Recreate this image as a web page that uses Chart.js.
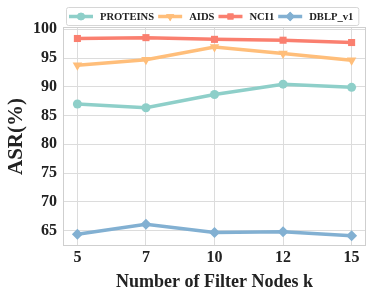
<!DOCTYPE html>
<html>
<head>
<meta charset="utf-8">
<script src="https://cdn.jsdelivr.net/npm/chart.js@4"></script>
<style>
  html, body { margin: 0; padding: 0; background: #fff; }
  #wrap { width: 374px; height: 297px; }
</style>
</head>
<body>
<div id="wrap"><canvas id="chart" width="374" height="297"></canvas></div>
<script>
// chart data
const kLabels = ['5', '7', '10', '12', '15'];
const proteins = [87.0, 86.35, 88.65, 90.45, 89.9];
const aids = [93.75, 94.7, 96.9, 95.8, 94.6];
const nci1 = [98.4, 98.55, 98.25, 98.1, 97.7];
const dblp = [64.35, 66.1, 64.65, 64.8, 64.1];
const yTicks = [65, 70, 75, 80, 85, 90, 95, 100];

const FONT = "'Liberation Serif', 'Times New Roman', serif";

function series(label, values, color, style, rot, r) {
    return {
        label: label,
        data: values.map((v, i) => ({ x: i, y: v })),
        borderColor: color,
        backgroundColor: color,
        borderWidth: 3.5,
        pointStyle: style,
        rotation: rot,
        pointRadius: r,
        pointHoverRadius: r,
        pointBorderWidth: 0,
        tension: 0
    };
}

// legend box with line + marker, plus plot frame
const legendAndFrame = {
    id: 'legendAndFrame',
    afterDraw(chart) {
        const ctx = chart.ctx;
        const a = chart.chartArea;
        ctx.save();
        ctx.strokeStyle = '#cfcfcf';
        ctx.lineWidth = 1;
        ctx.strokeRect(a.left + 0.5, a.top + 0.5, a.right - a.left - 1, a.bottom - a.top - 1);

        ctx.font = 'bold 10.6px ' + FONT;
        const lineW = 24, gapText = 7, gapItem = 4;
        const items = chart.data.datasets;
        let total = 0;
        items.forEach(d => { total += lineW + gapText + ctx.measureText(d.label).width + gapItem; });
        const boxX = 66, boxY = 7, boxH = 18, boxW = total + 4;
        ctx.fillStyle = '#fff';
        ctx.strokeStyle = '#d6d6d6';
        ctx.beginPath();
        ctx.roundRect(boxX + 0.5, boxY + 0.5, boxW, boxH, 2);
        ctx.fill();
        ctx.stroke();

        let x = boxX + 3;
        const cy = boxY + boxH / 2 + 0.5;
        items.forEach(d => {
            ctx.strokeStyle = d.borderColor;
            ctx.lineWidth = 3.5;
            ctx.beginPath();
            ctx.moveTo(x, cy);
            ctx.lineTo(x + lineW, cy);
            ctx.stroke();
            ctx.fillStyle = d.borderColor;
            Chart.helpers.drawPoint(ctx, {
                pointStyle: d.pointStyle, rotation: d.rotation,
                radius: d.pointRadius * 0.85, borderWidth: 0
            }, x + lineW / 2, cy);
            ctx.fill();
            x += lineW + gapText;
            ctx.fillStyle = '#222';
            ctx.textBaseline = 'middle';
            ctx.fillText(d.label, x, cy + 0.5);
            x += ctx.measureText(d.label).width + gapItem;
        });
        ctx.restore();
    }
};

new Chart(document.getElementById('chart'), {
    type: 'line',
    data: {
        datasets: [
            series('PROTEINS', proteins, '#8ECFC9', 'circle', 0, 4.5),
            series('AIDS', aids, '#FFBE7A', 'triangle', 180, 5.5),
            series('NCI1', nci1, '#FA7F6F', 'rect', 0, 5),
            series('DBLP_v1', dblp, '#82B0D2', 'rectRot', 0, 5.5)
        ]
    },
    options: {
        responsive: false,
        animation: false,
        layout: { padding: { top: 27, right: 8, left: 0, bottom: 0 } },
        plugins: { legend: { display: false }, tooltip: { enabled: false } },
        scales: {
            x: {
                type: 'linear',
                min: -0.21,
                max: 4.21,
                afterBuildTicks: s => { s.ticks = kLabels.map((_, i) => ({ value: i })); },
                afterFit: s => { s.height = 51; },
                ticks: {
                    callback: v => kLabels[v],
                    color: '#222',
                    font: { family: FONT, size: 16, weight: 'bold' },
                    padding: 2,
                    maxRotation: 0
                },
                grid: { color: '#dcdcdc', drawTicks: false },
                border: { display: false },
                title: {
                    display: true,
                    text: 'Number of Filter Nodes k',
                    color: '#222',
                    font: { family: FONT, size: 18, weight: 'bold' },
                    padding: { top: 0 }
                }
            },
            y: {
                min: 62.3,
                max: 100.4,
                afterBuildTicks: s => { s.ticks = yTicks.map(v => ({ value: v })); },
                afterFit: s => { s.width = 63; },
                ticks: {
                    color: '#222',
                    font: { family: FONT, size: 16, weight: 'bold' },
                    padding: 6
                },
                grid: { color: '#dcdcdc', drawTicks: false },
                border: { display: false },
                title: {
                    display: true,
                    text: 'ASR(%)',
                    color: '#222',
                    font: { family: FONT, size: 21, weight: 'bold' },
                    padding: { bottom: 0 }
                }
            }
        }
    },
    plugins: [legendAndFrame]
});
</script>
</body>
</html>
